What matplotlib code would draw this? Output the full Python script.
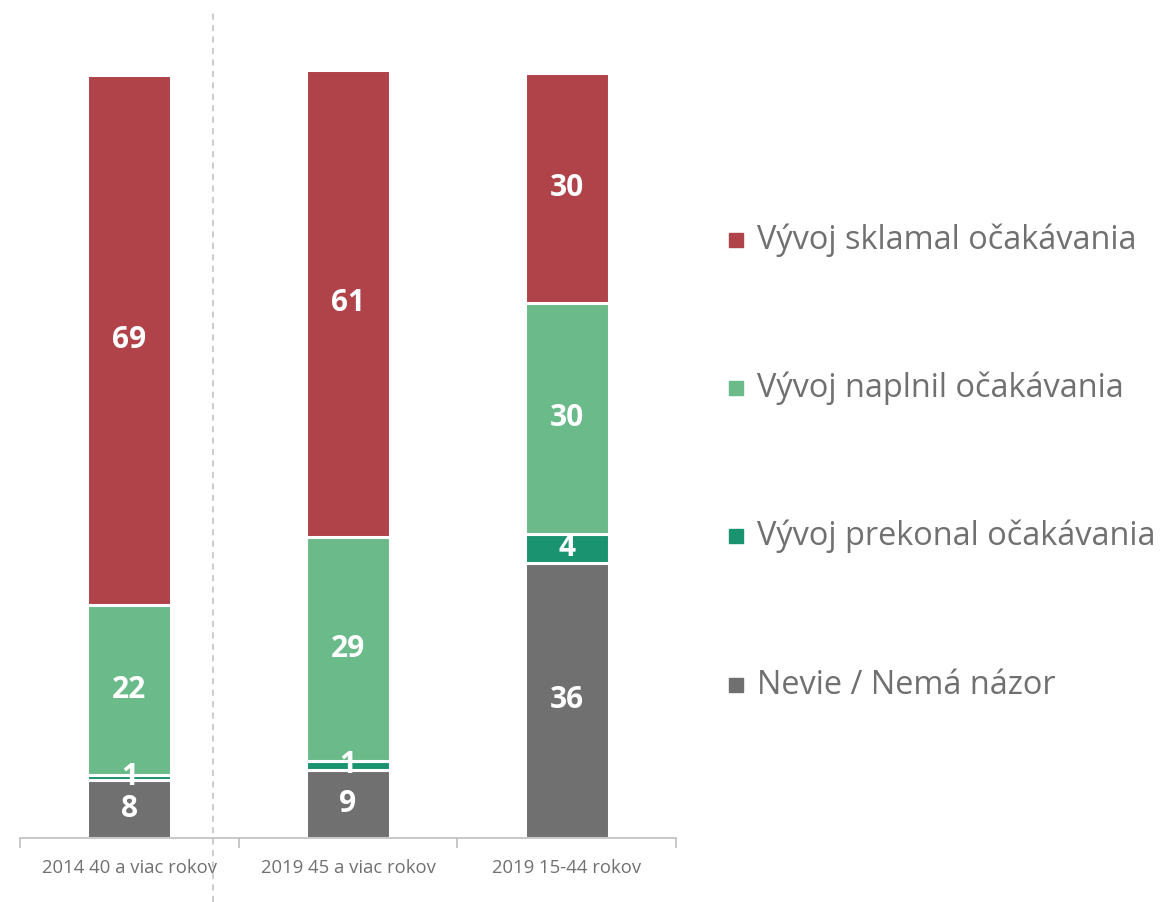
import matplotlib
matplotlib.use("Agg")
import matplotlib.pyplot as plt
from matplotlib.lines import Line2D
from matplotlib.patches import Rectangle

categories = ["2014 40 a viac rokov", "2019 45 a viac rokov", "2019 15-44 rokov"]
series_names = ["Nevie / Nemá názor", "Vývoj prekonal očakávania",
                "Vývoj naplnil očakávania", "Vývoj sklamal očakávania"]
nevie = [7.6, 8.9, 36.0]
prekonal = [0.7, 1.2, 3.8]
naplnil = [22.1, 29.3, 30.2]
sklamal = [69.4, 61.0, 30.0]
colors = ["#707070", "#1A9470", "#6BBB8A", "#B0434A"]

W, H = 1163, 902
fig = plt.figure(figsize=(W / 100, H / 100), dpi=100)
fig.patch.set_facecolor("white")

ax_left, ax_right = 20 / W, 676 / W
ax_bottom = (H - 838) / H
ymax = 105
ax_height_px = ymax * 7.65
ax = fig.add_axes([ax_left, ax_bottom, ax_right - ax_left, ax_height_px / H])

font = "Open Sans"
text_grey = "#707070"
series = [nevie, prekonal, naplnil, sklamal]
x = list(range(len(categories)))
bottoms = [0.0] * len(categories)
for vals, col in zip(series, colors):
    ax.bar(x, vals, width=0.383, bottom=bottoms, color=col,
           edgecolor="white", linewidth=2.2, clip_on=False)
    for xi, v, b in zip(x, vals, bottoms):
        ax.text(xi, b + v / 2, f"{round(v)}", ha="center", va="center",
                color="white", fontsize=21.5, fontweight="bold", family=font)
    bottoms = [b + v for b, v in zip(bottoms, vals)]

ax.set_xlim(-0.5, 2.5)
ax.set_ylim(0, ymax)
for s in ["top", "right", "left"]:
    ax.spines[s].set_visible(False)
ax.spines["bottom"].set_color("#BFBFBF")
ax.spines["bottom"].set_linewidth(1.2)
ax.set_yticks([])
ax.set_xticks([-0.5, 0.5, 1.5, 2.5])
ax.set_xticklabels([])
ax.tick_params(axis="x", which="major", length=7, width=1.2, color="#BFBFBF",
               direction="out")
ax.set_xticks(x, minor=True)
ax.set_xticklabels(categories, minor=True, fontsize=13.3, color=text_grey,
                   family=font)
ax.tick_params(axis="x", which="minor", length=0, pad=15)

# dashed separator
fig.add_artist(Line2D([213 / W, 213 / W], [0, 1 - 10 / H], transform=fig.transFigure,
                      color="#BFBFBF", linestyle=(0, (4, 3.5)), linewidth=1.1))

# legend (top to bottom)
legend_rows = [240, 388, 536, 685]
for name, col, yy in zip(series_names[::-1], colors[::-1], legend_rows):
    fy = 1 - yy / H
    sq = 14
    fig.add_artist(Rectangle((729 / W, fy - sq / 2 / H), sq / W, sq / H,
                             transform=fig.transFigure, color=col))
    fig.text(757 / W, fy, name, ha="left", va="center", fontsize=23.4,
             color=text_grey, family=font)

fig.savefig("out.png", dpi=100, facecolor="white")
